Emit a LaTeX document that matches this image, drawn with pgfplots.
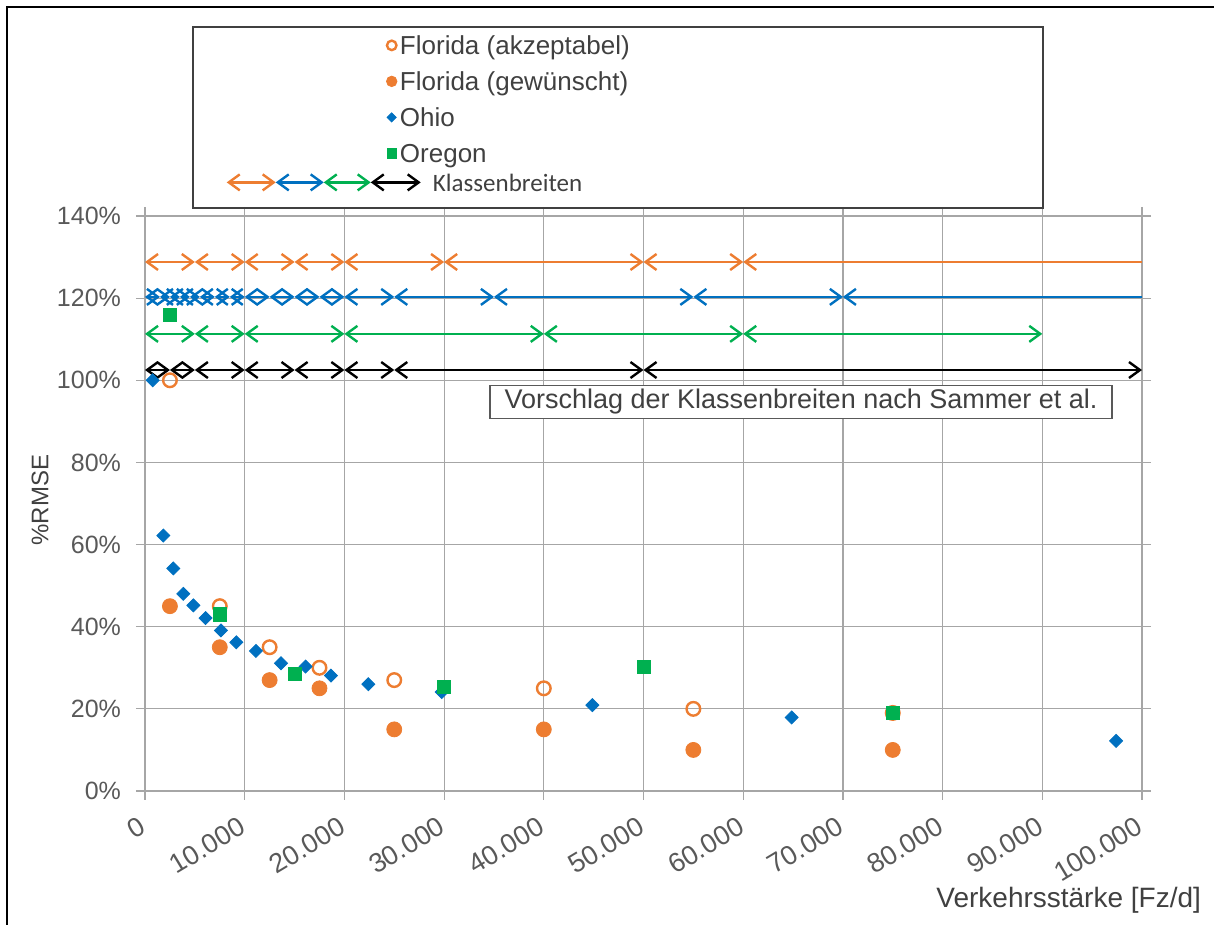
\documentclass[border=0pt]{standalone}
\usepackage{fontspec}
\setmainfont{Liberation Sans}
\newfontfamily\carlito{Carlito}
\usepackage{pgfplots}
\pgfplotsset{compat=1.18}
\usetikzlibrary{arrows.meta}

\definecolor{forange}{HTML}{ED7D31}
\definecolor{oblue}{HTML}{0070C0}
\definecolor{ogreen}{HTML}{00B050}
\definecolor{txt}{HTML}{404040}
\definecolor{tickc}{HTML}{595959}
\definecolor{gridc}{HTML}{A6A6A6}

\tikzset{bb/.tip={Straight Barb[length=5.5pt,width=8pt]}}
\pgfplotsset{
  cl/.style={forget plot, line width=1.2pt, draw=#1, bb-bb},
  clo/.style={forget plot, line width=1.2pt, draw=#1, bb-},
}

\begin{document}
\begin{tikzpicture}
\path[use as bounding box] (0,0) rectangle (607pt,462.5pt);
\begin{axis}[
  at={(72.5pt,67pt)}, anchor=south west,
  scale only axis, width=498.5pt, height=287.5pt,
  xmin=0, xmax=100000, ymin=0, ymax=140,
  xtick={0,10000,20000,30000,40000,50000,60000,70000,80000,90000,100000},
  xticklabels={0,10.000,20.000,30.000,40.000,50.000,60.000,70.000,80.000,90.000,100.000},
  ytick={0,20,40,60,80,100,120,140},
  yticklabels={0\%,20\%,40\%,60\%,80\%,100\%,120\%,140\%},
  scaled x ticks=false,
  grid=major, grid style={draw=gridc, line width=0.6pt},
  axis line style={draw=gridc, line width=0.6pt},
  tick align=outside, major tick length=4.5pt,
  tick style={draw=gridc, line width=0.6pt},
  xticklabel style={font=\fontsize{13.5}{15}\selectfont, text=tickc, yshift=-11.5pt, rotate=31, anchor=east, inner sep=1pt},
  yticklabel style={font=\fontsize{12.5}{14}\selectfont, text=tickc, xshift=-4pt},
  xlabel={Verkehrsstärke [Fz/d]},
  ylabel={\%RMSE},
  xlabel style={at={(axis description cs:1.0662,-0.1896)}, anchor=east, font=\fontsize{14}{16}\selectfont, text=txt},
  ylabel style={at={(axis description cs:-0.1053,0.506)}, anchor=center, font=\fontsize{12}{14}\selectfont, text=txt},
  clip=true,
  legend cell align=left,
  legend style={at={(axis description cs:0.2418,1.3235)}, anchor=north west, draw=none, fill=none,
    inner sep=0pt, row sep=3pt, column sep=0pt, font=\fontsize{13}{15}\selectfont, text=txt,
    nodes={inner xsep=1.5pt, inner ysep=1pt, text height=11pt, text depth=2pt}},
  legend image code/.code={\draw[#1, every mark/.append style={scale=0.7}] plot coordinates {(0pt,0pt)};},
]
% class widths: Florida
\addplot[cl=forange] coordinates {(0,128.8) (5000,128.8)};
\addplot[cl=forange] coordinates {(5000,128.8) (10000,128.8)};
\addplot[cl=forange] coordinates {(10000,128.8) (15000,128.8)};
\addplot[cl=forange] coordinates {(15000,128.8) (20000,128.8)};
\addplot[cl=forange] coordinates {(20000,128.8) (30000,128.8)};
\addplot[cl=forange] coordinates {(30000,128.8) (50000,128.8)};
\addplot[cl=forange] coordinates {(50000,128.8) (60000,128.8)};
\addplot[clo=forange] coordinates {(60000,128.8) (100000,128.8)};
% Ohio
\addplot[cl=oblue] coordinates {(0,120.3) (1500,120.3)};
\addplot[cl=oblue] coordinates {(1500,120.3) (2500,120.3)};
\addplot[cl=oblue] coordinates {(2500,120.3) (3500,120.3)};
\addplot[cl=oblue] coordinates {(3500,120.3) (4500,120.3)};
\addplot[cl=oblue] coordinates {(4500,120.3) (5500,120.3)};
\addplot[cl=oblue] coordinates {(5500,120.3) (7000,120.3)};
\addplot[cl=oblue] coordinates {(7000,120.3) (8500,120.3)};
\addplot[cl=oblue] coordinates {(8500,120.3) (10000,120.3)};
\addplot[cl=oblue] coordinates {(10000,120.3) (12500,120.3)};
\addplot[cl=oblue] coordinates {(12500,120.3) (15000,120.3)};
\addplot[cl=oblue] coordinates {(15000,120.3) (17500,120.3)};
\addplot[cl=oblue] coordinates {(17500,120.3) (20000,120.3)};
\addplot[cl=oblue] coordinates {(20000,120.3) (25000,120.3)};
\addplot[cl=oblue] coordinates {(25000,120.3) (35000,120.3)};
\addplot[cl=oblue] coordinates {(35000,120.3) (55000,120.3)};
\addplot[cl=oblue] coordinates {(55000,120.3) (70000,120.3)};
\addplot[clo=oblue] coordinates {(70000,120.3) (100000,120.3)};
% Oregon
\addplot[cl=ogreen] coordinates {(0,111.3) (5000,111.3)};
\addplot[cl=ogreen] coordinates {(5000,111.3) (10000,111.3)};
\addplot[cl=ogreen] coordinates {(10000,111.3) (20000,111.3)};
\addplot[cl=ogreen] coordinates {(20000,111.3) (40000,111.3)};
\addplot[cl=ogreen] coordinates {(40000,111.3) (60000,111.3)};
\addplot[cl=ogreen] coordinates {(60000,111.3) (90000,111.3)};
% Sammer et al.
\addplot[cl=black] coordinates {(0,102.5) (2500,102.5)};
\addplot[cl=black] coordinates {(2500,102.5) (5000,102.5)};
\addplot[cl=black] coordinates {(5000,102.5) (10000,102.5)};
\addplot[cl=black] coordinates {(10000,102.5) (15000,102.5)};
\addplot[cl=black] coordinates {(15000,102.5) (20000,102.5)};
\addplot[cl=black] coordinates {(20000,102.5) (25000,102.5)};
\addplot[cl=black] coordinates {(25000,102.5) (50000,102.5)};
\addplot[cl=black] coordinates {(50000,102.5) (100000,102.5)};

% data
\addplot[only marks, mark=o, draw=forange, mark size=3.4pt, line width=1.2pt]
  coordinates {(2500,100) (7500,45) (12500,35) (17500,30) (25000,27) (40000,25) (55000,20) (75000,19)};
\addlegendentry{Florida (akzeptabel)}
\addplot[only marks, mark=*, draw=forange, fill=forange, mark size=3.75pt]
  coordinates {(2500,45) (7500,35) (12500,27) (17500,25) (25000,15) (40000,15) (55000,10) (75000,10)};
\addlegendentry{Florida (gewünscht)}
\addplot[only marks, mark=square*, draw=oblue, fill=oblue, mark size=2.3pt, mark options={rotate=45}]
  coordinates {(770,100) (1840,62.2) (2840,54.2) (3840,48) (4850,45.2) (6070,42.1) (7620,39.1) (9160,36.2)
  (11130,34.1) (13640,31.1) (16110,30.3) (18650,28.1) (22400,26) (29760,24.1) (44870,20.9) (64860,17.9) (97400,12.2)};
\addlegendentry{Ohio}
\addplot[only marks, mark=square*, draw=ogreen, fill=ogreen, mark size=3.3pt]
  coordinates {(2500,115.9) (7500,43) (15000,28.5) (30000,25.3) (50000,30.3) (75000,19.1)};
\addlegendentry{Oregon}
\addlegendimage{legend image code/.code={
  \path (0,0);
  \begin{scope}[overlay, yshift=3.5pt, line width=1.2pt]
    \draw[forange, bb-bb] (-82.5pt,0) -- (-58pt,0);
    \draw[oblue, bb-bb] (-58pt,0) -- (-34pt,0);
    \draw[ogreen, bb-bb] (-34pt,0) -- (-10.5pt,0);
    \draw[black, bb-bb] (-10.5pt,0) -- (14.5pt,0);
  \end{scope}}}
\addlegendentry{\raisebox{3.5pt}{\hspace*{16.5pt}\carlito\fontsize{12.5}{14}\selectfont Klassenbreiten}}

\node[draw=tickc, line width=0.6pt, fill=white, minimum width=311pt, minimum height=16.5pt, inner sep=0pt,
  font=\fontsize{13.5}{15}\selectfont, text=txt] at (axis cs:65800,94.8) {Vorschlag der Klassenbreiten nach Sammer et al.};
\end{axis}
\draw[draw=txt, line width=0.75pt] (96.5pt,358.5pt) rectangle (521.5pt,449pt);
\draw[line width=1pt] (3.5pt,0) -- (3.5pt,459pt) -- (607pt,459pt);
\end{tikzpicture}
\end{document}
